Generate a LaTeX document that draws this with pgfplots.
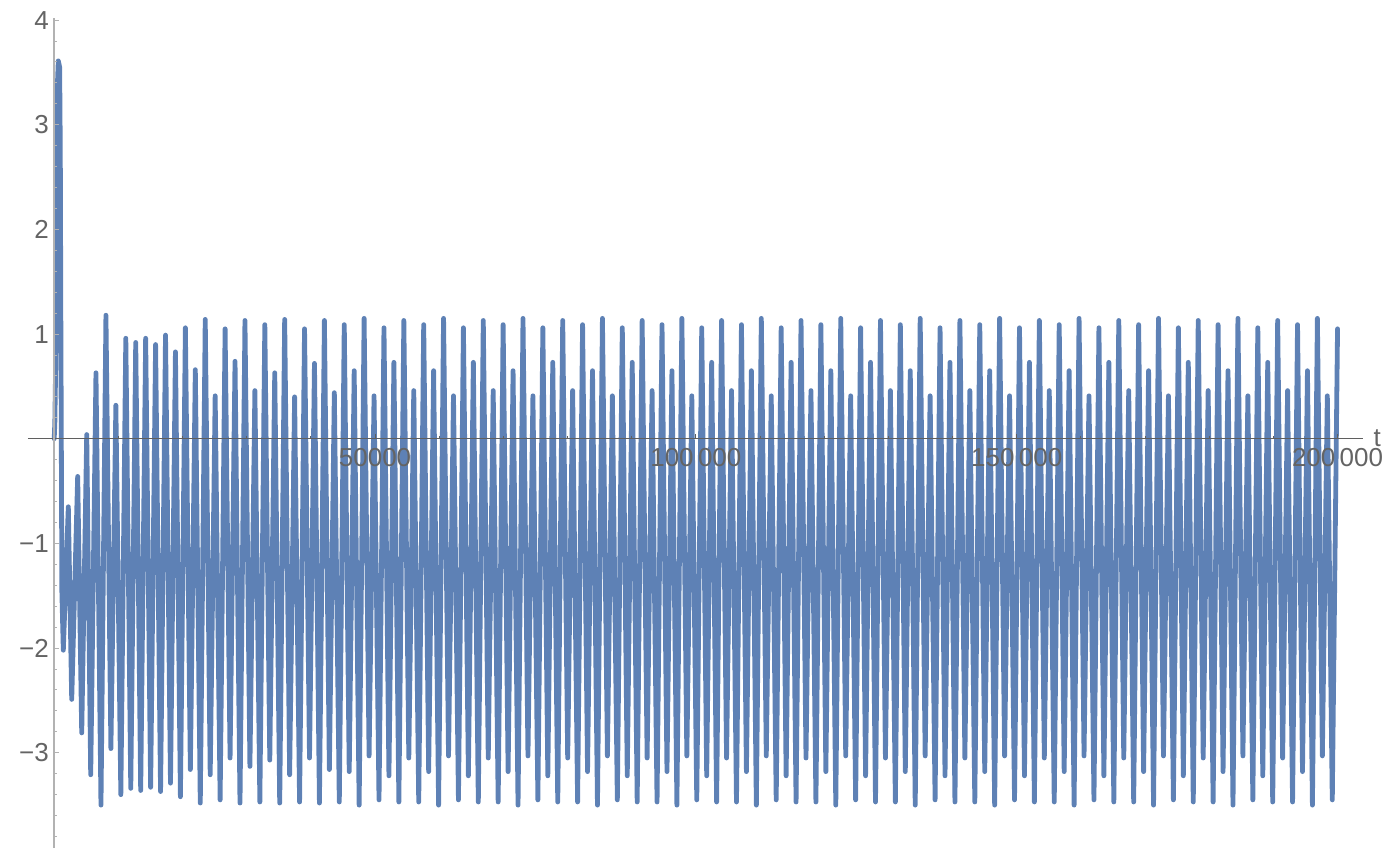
\documentclass[border=0pt]{standalone}
\usepackage{fontspec}
\setmainfont{Liberation Sans}
\usepackage{pgfplots}
\pgfplotsset{compat=1.18}
\definecolor{mmablue}{RGB}{94,129,181}
\definecolor{lab}{RGB}{100,100,100}
\definecolor{yax}{RGB}{178,178,178}
\definecolor{xax}{RGB}{95,95,95}
\begin{document}
\begin{tikzpicture}
\begin{axis}[
 scale only axis, width=667.5pt, height=415pt,
 xmin=-4083, xmax=203970, ymin=-3.91, ymax=4.02,
 axis lines=middle,
 axis on top,
 scaled x ticks=false,
 every inner x axis line/.append style={-},
 every inner y axis line/.append style={-},
 x axis line style={draw=xax, line width=0.6pt, -},
 y axis line style={draw=yax, line width=0.8pt, -},
 xtick={50000,100000,150000,200000},
 xticklabels={50000,100\,000,150\,000,200\,000},
 minor xtick={10000,20000,30000,40000,60000,70000,80000,90000,110000,120000,130000,140000,160000,170000,180000,190000},
 ytick={-3,-2,-1,1,2,3,4},
 yticklabels={−3,−2,−1,1,2,3,4},
 minor ytick={-3.8,-3.6,-3.4,-3.2,-2.8,-2.6,-2.4,-2.2,-1.8,-1.6,-1.4,-1.2,-0.8,-0.6,-0.4,-0.2,0.2,0.4,0.6,0.8,1.2,1.4,1.6,1.8,2.2,2.4,2.6,2.8,3.2,3.4,3.6,3.8},
 tick align=inside,
 major tick length=2.2pt, minor tick length=1.2pt,
 xtick style={draw=xax, line width=0.5pt},
 ytick style={draw=yax, line width=0.5pt},
 tick label style={font=\fontsize{13}{15}\selectfont, text=lab},
 yticklabel style={anchor=east, inner sep=0pt, xshift=-2.5pt},
 xticklabel style={anchor=north, inner sep=0pt, yshift=-4.5pt},
 xlabel={t},
 xlabel style={at={(current axis.right of origin)}, anchor=west, inner sep=0pt, xshift=5pt, font=\fontsize{13}{15}\selectfont, text=lab},
]
\addplot[mmablue, line width=2.4pt, line join=round, line cap=round] table {
t y
0 0
100 0.15
300 1.0
450 3.3
640 3.61
850 3.55
950 2.75
1030 1.23
1200 -1.47
1420 -2.02
2200 -0.65
2730 -2.49
3660 -0.36
4290 -2.81
5070 0.04
5690 -3.21
6510 0.63
7290 -3.50
8064 1.18
8838 -2.96
9611 0.32
10385 -3.40
11159 0.96
11933 -3.34
12706 0.92
13480 -3.36
14254 0.96
15028 -3.33
15801 0.90
16575 -3.37
17349 0.99
18123 -3.29
18896 0.83
19670 -3.42
20444 1.06
21218 -3.16
21991 0.66
22765 -3.48
23539 1.14
24313 -3.21
25086 0.41
25860 -3.45
26634 1.05
27408 -3.05
28181 0.74
28955 -3.48
29729 1.13
30503 -3.13
31276 0.46
32050 -3.47
32824 1.09
33598 -3.07
34371 0.63
35145 -3.48
35919 1.14
36693 -3.21
37466 0.40
38240 -3.47
39014 1.05
39788 -3.05
40561 0.72
41335 -3.48
42109 1.13
42883 -3.16
43656 0.44
44430 -3.47
45204 1.09
45978 -3.18
46751 0.65
47525 -3.50
48299 1.15
49073 -3.03
49846 0.41
50620 -3.45
51394 1.06
52168 -3.22
52941 0.73
53715 -3.47
54489 1.13
55263 -3.05
56036 0.46
56810 -3.47
57584 1.09
58358 -3.18
59131 0.65
59905 -3.50
60679 1.15
61453 -3.03
62226 0.41
63000 -3.45
63774 1.06
64548 -3.22
65321 0.73
66095 -3.47
66869 1.13
67643 -3.05
68416 0.46
69190 -3.47
69964 1.09
70738 -3.18
71511 0.65
72285 -3.50
73059 1.15
73833 -3.03
74606 0.41
75380 -3.45
76154 1.06
76928 -3.22
77701 0.73
78475 -3.47
79249 1.13
80023 -3.05
80796 0.46
81570 -3.47
82344 1.09
83118 -3.18
83891 0.65
84665 -3.50
85439 1.15
86213 -3.03
86986 0.41
87760 -3.45
88534 1.06
89308 -3.22
90081 0.73
90855 -3.47
91629 1.13
92403 -3.05
93176 0.46
93950 -3.47
94724 1.09
95498 -3.18
96271 0.65
97045 -3.50
97819 1.15
98593 -3.03
99366 0.41
100140 -3.45
100914 1.06
101688 -3.22
102461 0.73
103235 -3.47
104009 1.13
104783 -3.05
105556 0.46
106330 -3.47
107104 1.09
107878 -3.18
108651 0.65
109425 -3.50
110199 1.15
110973 -3.03
111746 0.41
112520 -3.45
113294 1.06
114068 -3.22
114841 0.73
115615 -3.47
116389 1.13
117163 -3.05
117936 0.46
118710 -3.47
119484 1.09
120258 -3.18
121031 0.65
121805 -3.50
122579 1.15
123353 -3.03
124126 0.41
124900 -3.45
125674 1.06
126448 -3.22
127221 0.73
127995 -3.47
128769 1.13
129543 -3.05
130316 0.46
131090 -3.47
131864 1.09
132638 -3.18
133411 0.65
134185 -3.50
134959 1.15
135733 -3.03
136506 0.41
137280 -3.45
138054 1.06
138828 -3.22
139601 0.73
140375 -3.47
141149 1.13
141923 -3.05
142696 0.46
143470 -3.47
144244 1.09
145018 -3.18
145791 0.65
146565 -3.50
147339 1.15
148113 -3.03
148886 0.41
149660 -3.45
150434 1.06
151208 -3.22
151981 0.73
152755 -3.47
153529 1.13
154303 -3.05
155076 0.46
155850 -3.47
156624 1.09
157398 -3.18
158171 0.65
158945 -3.50
159719 1.15
160493 -3.03
161266 0.41
162040 -3.45
162814 1.06
163588 -3.22
164361 0.73
165135 -3.47
165909 1.13
166683 -3.05
167456 0.46
168230 -3.47
169004 1.09
169778 -3.18
170551 0.65
171325 -3.50
172099 1.15
172873 -3.03
173646 0.41
174420 -3.45
175194 1.06
175968 -3.22
176741 0.73
177515 -3.47
178289 1.13
179063 -3.05
179836 0.46
180610 -3.47
181384 1.09
182158 -3.18
182931 0.65
183705 -3.50
184479 1.15
185253 -3.03
186026 0.41
186800 -3.45
187574 1.06
188348 -3.22
189121 0.73
189895 -3.47
190669 1.13
191443 -3.05
192216 0.46
192990 -3.47
193764 1.09
194538 -3.18
195311 0.65
196085 -3.50
196859 1.15
197633 -3.03
198406 0.41
199180 -3.45
200000 1.05
};
\coordinate (bl) at (rel axis cs:0,0);
\end{axis}
\pgfresetboundingbox
\path[use as bounding box] (bl) ++(-14pt,0pt) rectangle ++(700pt,424pt);
\end{tikzpicture}
\end{document}
